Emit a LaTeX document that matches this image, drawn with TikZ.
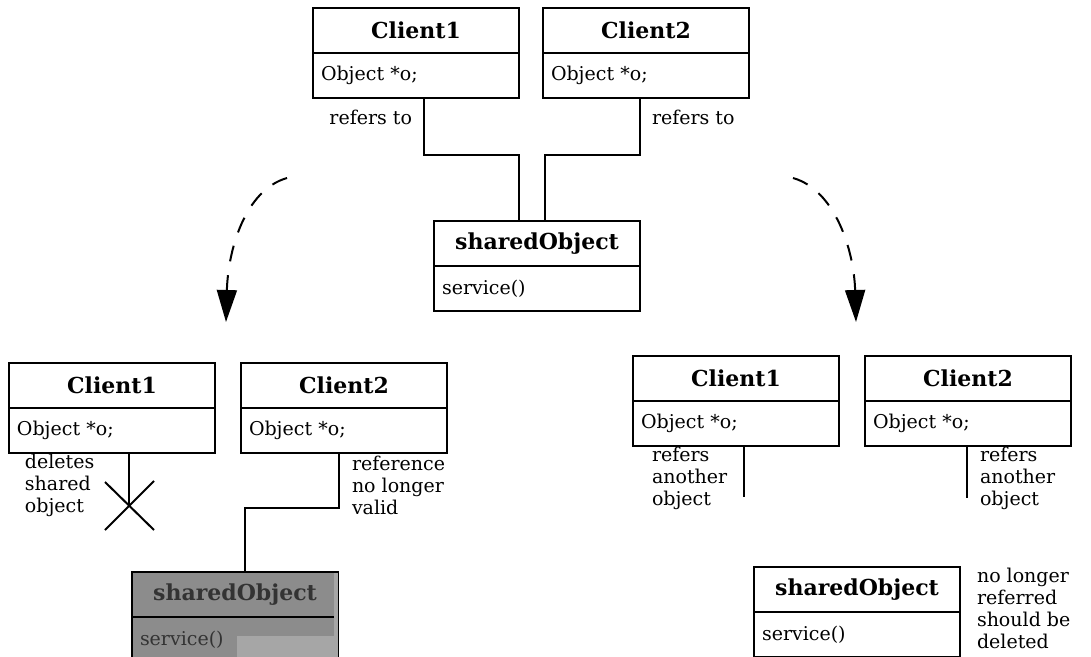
\documentclass[tikz,border=0pt]{standalone}
\usepackage{fontspec}
\setmainfont{DejaVu Serif}
\usetikzlibrary{positioning,calc,arrows.meta}

\begin{document}
\begin{tikzpicture}[
		x = 0.5pt, y = -0.5pt, % one unit per pixel, y downwards
		> = {Stealth[length=16pt, width=10pt, inset=0pt]}, % arrow head style
		line width = 1pt, % line style
		font = \fontsize{9.5}{11}\selectfont
		]
		
		\tikzstyle{classname}=[
		draw = black,
		rectangle,
		minimum width = 103pt,
		minimum height = 22.5pt,
		inner sep = 0pt,
		font = \fontsize{11}{13}\selectfont\bfseries
		]
		\tikzstyle{classbody}=[
		draw = black,
		rectangle,
		text width = 95pt,
		minimum height = 22.5pt,
		inner xsep = 4pt,
		inner ysep = 0pt,
		align = left
		]
		\tikzstyle{remark}=[anchor = west, align = left, inner sep = 0pt]
		\tikzstyle{hop}=[dash pattern = on 8pt off 7pt]
		
		\useasboundingbox (0,0) rectangle (1091,657);
		
		% before
		\node[classname, anchor=north west] (client1) at (312,7) {Client1};
		\node[classbody] (object1) [below=-1pt of client1] {Object *o;};
		\node[classname, anchor=north west] (client2) at (542,7) {Client2};
		\node[classbody] (object2) [below=-1pt of client2] {Object *o;};
		\node[classname, anchor=north west] (shared) at (433,220) {sharedObject};
		\node[classbody] (service) [below=-1pt of shared] {service()};
		
		\draw ($(object1.south west)+(112,0)$) -- ++(0,56) -| ($(shared.north west)+(86,0)$);
		\draw ($(object2.south west)+(98,0)$) -- ++(0,56) -| ($(shared.north west)+(112,0)$);
		\node[remark, anchor=east] (refers1) at (413,117) {refers to};
		\node[remark] (refers2) at (651,117) {refers to};
		
		% the two outcomes
		\coordinate (fromleft) at (287,178);
		\coordinate (toleft) at (226,322);
		\coordinate (fromright) at (793,178);
		\coordinate (toright) at (856,322);
		\draw[->, hop] (fromleft) .. controls (245,190) and (228,250) .. (toleft);
		\draw[->, hop] (fromright) .. controls (835,190) and (854,250) .. (toright);
		
		% Client1 deletes
		\node[classname, anchor=north west] (client1l) at (8,362) {Client1};
		\node[classbody] (object1l) [below=-1pt of client1l] {Object *o;};
		\node[classname, anchor=north west] (client2l) at (240,362) {Client2};
		\node[classbody] (object2l) [below=-1pt of client2l] {Object *o;};
		\node[classname, fill=black!45, text=black!80, anchor=north west] (deadobj) at (131,571) {sharedObject};
		\node[classbody, fill=black!45, text=black!80] (deadsrv) [below=-1pt of deadobj] {service()};
		\fill[black!35] ($(deadsrv.north west)+(106,20)$) rectangle ($(deadsrv.south east)+(-2,-1)$);
		\fill[black!35] ($(deadobj.north east)+(-5,2)$) rectangle ($(deadsrv.south east)+(-1,-1)$);
		
		\coordinate (cut) at (129,506);
		\draw (object1l.south -| cut) -- (cut);
		\draw ($(cut)+(-24,-24)$) -- ($(cut)+(25,24)$);
		\draw ($(cut)+(25,-25)$) -- ($(cut)+(-24,24)$);
		\draw ($(object2l.south west)+(99,0)$) -- ++(0,54) -| ($(deadobj.north west)+(114,0)$);
		\node[remark] (deletes) at (24,485) {deletes\\shared\\object};
		\node[remark] (invalid) at (351,485) {reference\\no longer\\valid};
		
		% both refer elsewhere
		\node[classname, anchor=north west] (client1r) at (632,355) {Client1};
		\node[classbody] (object1r) [below=-1pt of client1r] {Object *o;};
		\node[classname, anchor=north west] (client2r) at (864,355) {Client2};
		\node[classbody] (object2r) [below=-1pt of client2r] {Object *o;};
		\node[classname, anchor=north west] (orphan) at (753,566) {sharedObject};
		\node[classbody] (orphansrv) [below=-1pt of orphan] {service()};
		
		\coordinate (loose1) at (744,497);
		\coordinate (loose2) at (967,498);
		\draw (object1r.south -| loose1) -- (loose1);
		\draw (object2r.south -| loose2) -- (loose2);
		\node[remark] (another1) at (651,478) {refers\\another\\object};
		\node[remark] (another2) at (979,478) {refers\\another\\object};
		\node[remark] (unused) at (976,608) {no longer\\referred\\should be\\deleted};
	\end{tikzpicture}
\end{document}
